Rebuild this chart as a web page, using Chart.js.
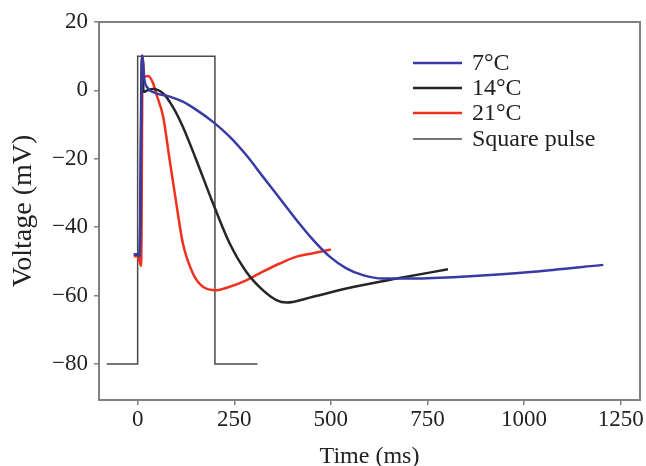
<!DOCTYPE html>
<html>
<head>
<meta charset="utf-8">
<script src="https://cdn.jsdelivr.net/npm/chart.js@4"></script>
<style>
  html, body { margin: 0; padding: 0; background: #fff; }
  #wrap { width: 646px; height: 466px; }
</style>
</head>
<body>
<div id="wrap"><canvas id="apChart" width="646" height="466"></canvas></div>
<script>
// Dữ liệu (ms, mV)
const t7 = [-10, 0, 5, 12, 17, 27, 48, 83, 117, 152, 195, 238, 281, 324, 368, 411, 454, 497, 540, 583, 635, 713, 850, 1024, 1205];
const v7 = [-48, -48, -48.5, 10.3, 3.5, 0.6, -0.85, -1.8, -3.3, -5.7, -9.2, -13.5, -18.9, -25.2, -31.6, -37.9, -43.7, -48.6, -52, -54, -55, -55, -54.4, -53, -51];

const t14 = [-10, 0, 5, 11, 15.5, 25, 39, 66, 91, 117, 152, 195, 238, 281, 324, 359, 385, 454, 540, 670, 803];
const v14 = [-48, -48, -48.5, 10, -0.4, 0, 0.4, -0.9, -4.8, -10.6, -20.4, -33, -44.7, -53, -58.4, -61.3, -62, -60.3, -57.9, -55, -52.3];

const t21 = [-10, 0, 4, 9, 13, 17, 27, 40, 48, 66, 83, 100, 117, 143, 169, 204, 238, 281, 324, 368, 411, 454, 500];
const v21 = [-48.5, -48.5, -49.5, -51.3, 9.9, 4, 4.2, 2.1, -0.9, -7.7, -20.4, -33, -44.7, -53.5, -57.4, -58.4, -57.4, -55.5, -53, -50.6, -48.6, -47.6, -46.5];

const tPulse = [-80, 0, 0, 200, 200, 310];
const vPulse = [-80, -80, 10, 10, -80, -80];

const seriesLabels = ['7°C', '14°C', '21°C', 'Square pulse'];
const xTicks = [0, 250, 500, 750, 1000, 1250];
const yTicks = [-80, -60, -40, -20, 0, 20];

const FONT = "'Liberation Serif', 'Times New Roman', serif";

function toPoints(ts, vs) {
    return ts.map((t, i) => ({ x: t, y: vs[i] }));
}

// Hàm định dạng nhãn trục (dấu trừ, không có dấu phẩy)
function formatTick(value) {
    return value < 0 ? '\u2212' + Math.abs(value) : String(value);
}

// Plugin vẽ khung và chú thích
const framePlugin = {
    id: 'frame',
    afterDatasetsDraw(chart) {
        const ctx = chart.ctx;
        const a = chart.chartArea;
        ctx.save();
        ctx.strokeStyle = '#808080';
        ctx.lineWidth = 2;
        ctx.strokeRect(a.left, a.top, a.right - a.left, a.bottom - a.top);

        // chú thích
        const rows = [63, 88, 113, 139];
        ctx.font = '24px ' + FONT;
        ctx.textBaseline = 'middle';
        ctx.textAlign = 'left';
        chart.data.datasets.forEach((ds, i) => {
            const y = rows[i];
            ctx.beginPath();
            ctx.strokeStyle = ds.borderColor;
            ctx.lineWidth = ds.borderWidth;
            ctx.moveTo(413, y);
            ctx.lineTo(462, y);
            ctx.stroke();
            ctx.fillStyle = '#222';
            ctx.fillText(ds.label, 472, y + 1);
        });
        ctx.restore();
    }
};

function drawChart() {
    const ctx = document.getElementById('apChart').getContext('2d');
    const curve = {
        borderWidth: 2.5,
        pointRadius: 0,
        fill: false,
        cubicInterpolationMode: 'monotone'
    };

    new Chart(ctx, {
        type: 'line',
        data: {
            datasets: [
                Object.assign({ label: seriesLabels[0], data: toPoints(t7, v7), borderColor: '#3a3aa6' }, curve),
                Object.assign({ label: seriesLabels[1], data: toPoints(t14, v14), borderColor: '#262626' }, curve),
                Object.assign({ label: seriesLabels[2], data: toPoints(t21, v21), borderColor: '#f2301e' }, curve),
                {
                    label: seriesLabels[3],
                    data: toPoints(tPulse, vPulse),
                    borderColor: '#4a4a4a',
                    borderWidth: 1.5,
                    pointRadius: 0,
                    tension: 0,
                    fill: false
                }
            ]
        },
        options: {
            responsive: false,
            animation: false,
            layout: { padding: { top: 22, right: 6, left: 0, bottom: 0 } },
            plugins: {
                legend: { display: false },
                tooltip: { enabled: false }
            },
            scales: {
                x: {
                    type: 'linear',
                    min: -100,
                    max: 1300,
                    afterBuildTicks: s => { s.ticks = xTicks.map(v => ({ value: v })); },
                    afterFit: s => { s.height = 66; },
                    border: { display: false },
                    grid: { drawOnChartArea: false, drawTicks: true, tickLength: 5, color: '#808080', lineWidth: 1.5 },
                    ticks: {
                        padding: 1,
                        color: '#222',
                        font: { family: FONT, size: 23 },
                        maxRotation: 0,
                        callback: v => formatTick(v)
                    },
                    title: {
                        display: true,
                        text: 'Time (ms)',
                        color: '#222',
                        font: { family: FONT, size: 24, lineHeight: 0.8 },
                        padding: { top: 0, bottom: 0 }
                    }
                },
                y: {
                    min: -90.5,
                    max: 20,
                    afterBuildTicks: s => { s.ticks = yTicks.map(v => ({ value: v })); },
                    afterFit: s => { s.width = 99; },
                    border: { display: false },
                    grid: { drawOnChartArea: false, drawTicks: true, tickLength: 5, color: '#808080', lineWidth: 1.5 },
                    ticks: {
                        padding: 6,
                        color: '#222',
                        font: { family: FONT, size: 23 },
                        callback: v => formatTick(v)
                    },
                    title: {
                        display: true,
                        text: 'Voltage (mV)',
                        color: '#222',
                        font: { family: FONT, size: 28, lineHeight: 1 },
                        padding: { top: 10, bottom: 0 }
                    }
                }
            }
        },
        plugins: [framePlugin]
    });
}

document.addEventListener('DOMContentLoaded', drawChart);
</script>
</body>
</html>
